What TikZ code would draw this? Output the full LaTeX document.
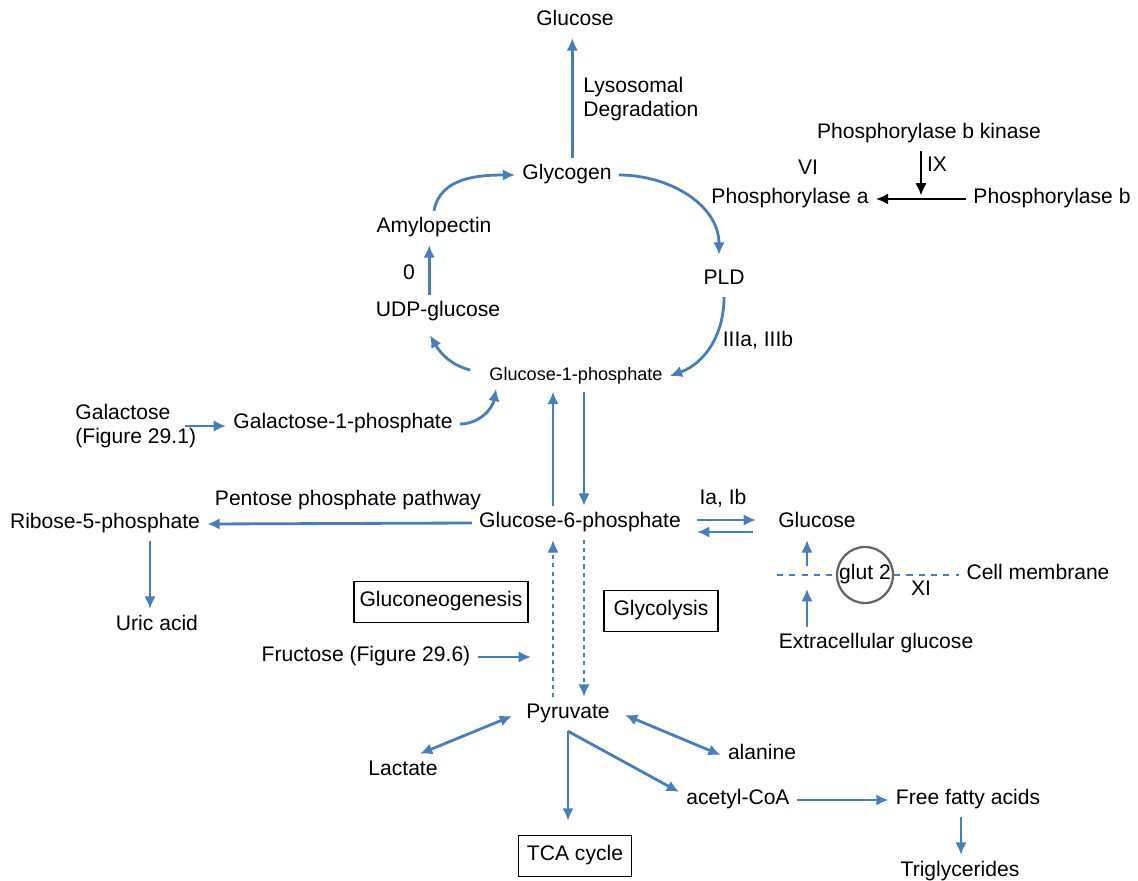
\documentclass[tikz,border=0pt]{standalone}
\usepackage{fontspec}
\setmainfont{Liberation Sans}
\usetikzlibrary{arrows.meta,calc}
\definecolor{pathblue}{RGB}{70,126,192}

\begin{document}
\begin{tikzpicture}[x=0.02cm,y=0.02cm,
    every node/.style={font=\fontsize{12}{13.6}\selectfont,text height=8.2pt,text depth=3pt,inner sep=4pt},
    small/.style={font=\fontsize{10.3}{12}\selectfont,text height=7.2pt,text depth=2.4pt},
    multi/.style={align=left,text height=,text depth=},
    box/.style={draw,line width=1pt,inner xsep=3pt,minimum height=0.82cm},
    flow/.style={draw=pathblue,line width=1.6pt,-{Latex[length=7pt,width=6.5pt]}},
    flowboth/.style={flow,{Latex[length=7pt,width=6.5pt]}-{Latex[length=7pt,width=6.5pt]}},
    dotflow/.style={flow,dash pattern=on 2.3pt off 2.3pt},
    membrane/.style={draw=pathblue,line width=0.9pt,dash pattern=on 3.5pt off 3.5pt},
    enzyme/.style={draw=black,line width=1.3pt,-{Latex[length=7pt,width=6.5pt]}}]
    \useasboundingbox (0,3) rectangle (1138,-878);

    % glycogen cycle
    \node (glctop) at (575,-18) {Glucose};
    \node[anchor=west,multi] (lyso) at (576,-96) {Lysosomal\\Degradation};
    \node (glycogen) at (567,-172) {Glycogen};
    \node (amylo) at (434,-225) {Amylopectin};
    \node (zero) at (409,-272) {0};
    \node (udp) at (438,-309) {UDP-glucose};
    \node[small] (g1p) at (576,-373) {Glucose-1-phosphate};
    \node (pld) at (724,-277) {PLD};
    \node (iii) at (758,-339) {IIIa, IIIb};

    % phosphorylase activation
    \node (vi) at (808,-167) {VI};
    \node (phosa) at (790,-196) {Phosphorylase a};
    \node (kinase) at (929,-131) {Phosphorylase b kinase};
    \node (ix) at (937,-164) {IX};
    \node (phosb) at (1052,-196) {Phosphorylase b};

    % side entries and exits
    \node[anchor=west,multi] (galac) at (68,-423) {Galactose\\(Figure 29.1)};
    \node (gal1p) at (343,-421) {Galactose-1-phosphate};
    \node (g6p) at (580,-520) {Glucose-6-phosphate};
    \node (ppp) at (348,-498) {Pentose phosphate pathway};
    \node (r5p) at (105,-521) {Ribose-5-phosphate};
    \node (uric) at (157,-623) {Uric acid};
    \node (iaib) at (723,-497) {Ia, Ib};
    \node (glcr) at (817,-520) {Glucose};
    \node[circle,draw=black!60,line width=1.3pt,minimum size=1.12cm,inner sep=0pt] (glut) at (865,-572) {glut 2};
    \node (membrane) at (1038,-572) {Cell membrane};
    \node (xi) at (921,-588) {XI};
    \node (extra) at (876,-641) {Extracellular glucose};
    \node[box,minimum width=3.44cm] (gluconeo) at (441,-599) {Gluconeogenesis};
    \node[box,minimum width=2.28cm] (glycolysis) at (661,-608) {Glycolysis};
    \node (fructose) at (366,-654) {Fructose (Figure 29.6)};

    % pyruvate branch
    \node (pyruvate) at (568,-711) {Pyruvate};
    \node (lactate) at (403,-768) {Lactate};
    \node (alanine) at (762,-752) {alanine};
    \node (acetyl) at (738,-797) {acetyl-CoA};
    \node (ffa) at (968,-797) {Free fatty acids};
    \node (tg) at (960,-869) {Triglycerides};
    \node[box,minimum width=2.26cm] (tca) at (575,-853) {TCA cycle};

    \draw[flow] ([xshift=3pt]glycogen.north) -- ([xshift=3pt]glycogen.north |- glctop.south);
    \draw[flow] (amylo.north) to[out=80,in=180] (glycogen.west);
    \draw[flow] (glycogen.east) to[out=0,in=90] ($(pld.north)+(-5,8)$);
    \draw[flow] (pld.south) to[out=-90,in=20] (g1p.east);
    \draw[flow] ($(g1p.west)+(-12,6)$) to[out=165,in=-60] ($(udp.south)+(-8,-6)$);
    \draw[flow] ([xshift=-5pt]udp.north) -- ([xshift=-5pt]udp.north |- amylo.south);

    \coordinate (act) at ($(phosa.east)!0.5!(phosb.west)$);
    \draw[enzyme] (phosb.west) -- (phosa.east);
    \draw[enzyme,shorten >=2pt] (kinase.south -| act) -- (act);

    \draw[flow] ($(galac.east)+(-18,0)$) -- (gal1p.west |- galac.east);
    \draw[flow] (gal1p.east) to[out=0,in=-100] ($(g1p.south west)+(14,3)$);
    \draw[flow] ($(g6p.north)+(-27,0)$) -- ($(g1p.south)+(-23,0)$);
    \draw[flow] ($(g1p.south)+(8,0)$) -- ($(g6p.north)+(4,0)$);

    \draw[flow] (g6p.west) -- (r5p.east);
    \draw[flow] ($(r5p.south)+(45,0)$) -- ($(uric.north)+(-7,0)$);
    \draw[flow] ($(g6p.east)+(9,3)$) -- ($(glcr.west)+(-15,3)$);
    \draw[flow] ($(glcr.west)+(-18,-9)$) -- ($(g6p.east)+(9,-9)$);

    % cell membrane with glut 2
    \coordinate (memend) at (777,-572);
    \coordinate (gate) at (807,-572);
    \draw[membrane] (memend) -- (glut.west);
    \draw[membrane] (glut.east) -- (membrane.west);
    \draw[flow] (extra.north -| gate) -- ($(gate)+(0,-14)$);
    \draw[flow] ($(gate)+(0,9)$) -- (glcr.south -| gate);

    \draw[dotflow] ($(pyruvate.north)+(-15,0)$) -- ($(g6p.south)+(-27,0)$);
    \draw[dotflow] ($(g6p.south)+(4,0)$) -- ($(pyruvate.north)+(16,0)$);
    \coordinate (fruend) at (531,-654);
    \draw[flow] (fructose.east) -- (fruend);

    \draw[flowboth] ($(lactate.north)+(17,0)$) -- ($(pyruvate.west)+(-7,-2)$);
    \draw[flowboth] ($(pyruvate.east)+(8,-1)$) -- (alanine.west);
    \draw[flow,shorten >=8pt] (pyruvate.south) -- (pyruvate.south |- tca.north);
    \draw[flow] (pyruvate.south) -- ($(acetyl.west)+(0,8)$);
    \draw[flow] (acetyl.east) -- (ffa.west);
    \draw[flow] ([xshift=-4pt]ffa.south) -- ([xshift=-4pt]ffa.south |- tg.north);
\end{tikzpicture}
\end{document}
